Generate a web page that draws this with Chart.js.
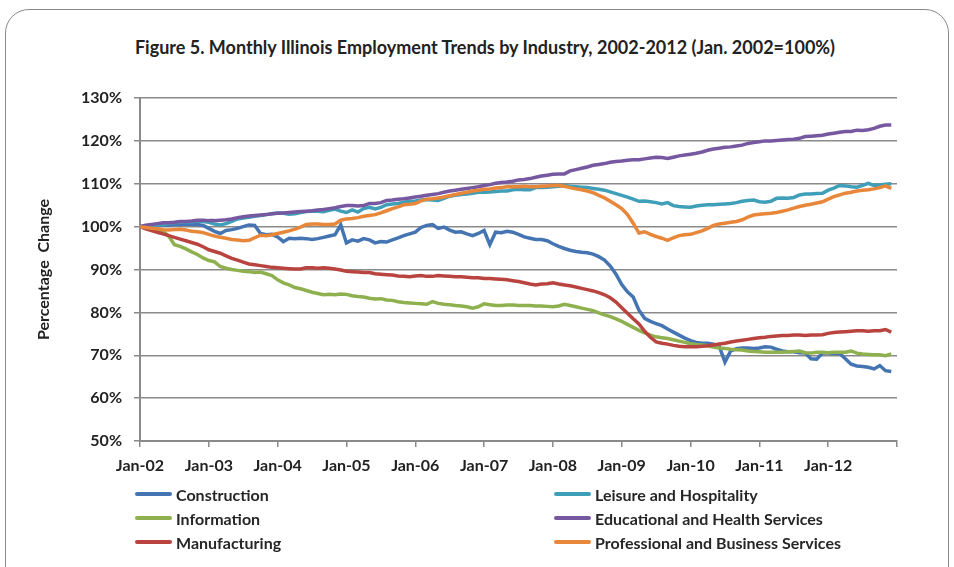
<!DOCTYPE html>
<html>
<head>
<meta charset="utf-8">
<script src="https://cdn.jsdelivr.net/npm/chart.js@4.4.1/dist/chart.umd.min.js"></script>
<style>
  html, body { margin: 0; padding: 0; background: #fff; }
  body { width: 954px; height: 567px; position: relative; overflow: hidden; font-family: Lato, sans-serif; }
  #frame { position: absolute; left: 5px; top: 9px; width: 942px; height: 600px; border: 1.5px solid #8a8a8a; border-radius: 24px; }
  #title { position: absolute; left: 0; width: 970px; top: 36px; text-align: center; font: bold 18px Lato, sans-serif; color: #222; }
  canvas { position: absolute; left: 0; top: 0; }
  .leg { position: absolute; height: 20px; display: flex; align-items: center; font: bold 16px Lato, sans-serif; color: #262626; white-space: nowrap; }
  .leg .sw { width: 37px; height: 4px; border-radius: 2px; margin-right: 4px; }
</style>
</head>
<body>
<div id="frame"></div>
<div id="title">Figure 5. Monthly Illinois Employment Trends by Industry, 2002-2012 (Jan. 2002=100%)</div>
<canvas id="myChart" width="954" height="567"></canvas>
<div id="legend"></div>
<script>
// month index since Jan-02 (0 .. 131)
const months = Array.from({ length: 132 }, (x, i) => i);
const yearLabels = ['Jan-02', 'Jan-03', 'Jan-04', 'Jan-05', 'Jan-06', 'Jan-07', 'Jan-08', 'Jan-09', 'Jan-10', 'Jan-11', 'Jan-12'];

const construction = [
  100.0, 100.0, 100.1, 100.3, 100.4, 100.4, 100.5, 100.5, 100.6, 100.5, 100.5, 100.3,
  99.6, 98.9, 98.4, 99.1, 99.3, 99.6, 100.0, 100.4, 100.3, 98.4, 98.1, 98.2,
  97.6, 96.5, 97.3, 97.2, 97.3, 97.2, 97.0, 97.2, 97.5, 97.8, 98.1, 100.4,
  96.2, 96.9, 96.6, 97.2, 96.9, 96.2, 96.5, 96.4, 96.9, 97.4, 97.9, 98.3,
  98.7, 99.8, 100.3, 100.5, 99.6, 99.9, 99.2, 98.7, 98.8, 98.3, 97.9, 98.4,
  99.1, 95.8, 98.7, 98.6, 98.9, 98.7, 98.2, 97.6, 97.3, 97.0, 97.0, 96.7,
  96.0, 95.4, 94.9, 94.5, 94.2, 94.0, 93.9, 93.6, 93.0, 92.2, 90.8, 88.9,
  86.5, 84.8, 83.6, 80.5, 78.6, 77.9, 77.4, 76.9, 76.1, 75.4, 74.7, 74.0,
  73.4, 73.0, 72.8, 72.8, 72.6, 72.1, 68.4, 71.0, 71.5, 71.7, 71.7, 71.6,
  71.7, 72.0, 71.9, 71.4, 71.0, 70.8, 70.8, 70.6, 70.5, 69.2, 69.1, 70.5,
  70.5, 70.4, 70.4, 69.2, 67.9, 67.5, 67.4, 67.2, 66.8, 67.6, 66.4, 66.2
];
const information = [
  100.0, 99.7, 99.4, 99.2, 98.9, 97.8, 95.8, 95.4, 94.8, 94.1, 93.5, 92.7,
  92.1, 91.8, 90.7, 90.3, 90.0, 89.8, 89.6, 89.5, 89.3, 89.4, 89.0, 88.6,
  87.6, 86.9, 86.4, 85.8, 85.5, 85.1, 84.7, 84.4, 84.1, 84.2, 84.1, 84.3,
  84.2, 83.9, 83.7, 83.6, 83.3, 83.1, 83.2, 82.9, 82.8, 82.5, 82.3, 82.2,
  82.1, 82.0, 81.9, 82.5, 82.1, 81.9, 81.8, 81.6, 81.5, 81.3, 81.0, 81.3,
  82.0, 81.8, 81.6, 81.6, 81.7, 81.7, 81.6, 81.6, 81.6, 81.5, 81.5, 81.4,
  81.3, 81.5, 81.9, 81.6, 81.3, 81.0, 80.7, 80.4, 79.9, 79.4, 79.0, 78.5,
  77.9, 77.2, 76.5, 75.8, 75.2, 74.7, 74.3, 74.1, 73.9, 73.6, 73.3, 73.0,
  72.7, 72.5, 72.4, 72.2, 71.9, 71.7, 71.6, 71.4, 71.3, 71.2, 71.0, 70.9,
  70.8, 70.7, 70.7, 70.7, 70.7, 70.8, 70.9, 71.0, 70.6, 70.5, 70.7, 70.7,
  70.6, 70.7, 70.7, 70.7, 71.0, 70.5, 70.3, 70.2, 70.1, 70.1, 69.9, 70.3
];
const manufacturing = [
  100.0, 99.5, 99.1, 98.7, 98.3, 97.9, 97.5, 97.1, 96.7, 96.3, 95.9, 95.3,
  94.6, 94.2, 93.8, 93.2, 92.6, 92.2, 91.7, 91.3, 91.1, 90.9, 90.7, 90.5,
  90.4, 90.3, 90.2, 90.1, 90.1, 90.4, 90.4, 90.3, 90.4, 90.3, 90.1, 89.9,
  89.6, 89.5, 89.4, 89.3, 89.3, 89.0, 88.9, 88.8, 88.7, 88.5, 88.4, 88.3,
  88.5, 88.6, 88.4, 88.4, 88.6, 88.5, 88.4, 88.3, 88.3, 88.2, 88.1, 88.1,
  87.9, 87.9, 87.8, 87.7, 87.6, 87.4, 87.2, 86.9, 86.6, 86.4, 86.6, 86.7,
  86.9, 86.6, 86.4, 86.2, 85.9, 85.6, 85.3, 85.0, 84.6, 84.1, 83.4, 82.4,
  81.1, 79.8, 78.5, 77.3, 75.6, 74.2, 73.1, 72.8, 72.6, 72.3, 72.1, 72.0,
  72.0, 72.0, 72.1, 72.2, 72.4, 72.6, 72.8, 73.1, 73.3, 73.5, 73.7, 73.9,
  74.1, 74.2, 74.4, 74.5, 74.6, 74.6, 74.7, 74.7, 74.6, 74.7, 74.7, 74.8,
  75.1, 75.3, 75.4, 75.5, 75.6, 75.7, 75.7, 75.6, 75.7, 75.7, 76.0, 75.4
];
const leisure = [
  100.0, 100.1, 100.2, 100.4, 100.5, 100.7, 100.9, 101.0, 101.1, 101.1, 101.3, 101.2,
  101.0, 100.6, 100.4, 100.7, 101.2, 101.8, 102.0, 102.2, 102.4, 102.6, 102.8, 103.0,
  103.2, 103.1, 102.9, 103.0, 103.3, 103.5, 103.6, 103.6, 103.5, 103.8, 104.1, 103.6,
  103.3, 103.9, 103.4, 104.2, 104.5, 104.1, 104.5, 105.1, 105.3, 105.4, 105.7, 105.9,
  106.0, 106.2, 106.3, 106.2, 106.1, 106.6, 107.1, 107.3, 107.5, 107.6, 107.8, 108.0,
  108.0, 108.1, 108.2, 108.3, 108.3, 108.6, 108.7, 108.6, 108.6, 109.1, 109.1, 109.2,
  109.3, 109.4, 109.6, 109.4, 109.3, 109.2, 109.1, 108.9, 108.7, 108.5, 108.1, 107.7,
  107.3, 106.9, 106.4, 105.9, 106.0, 105.8, 105.6, 105.3, 105.6, 104.9, 104.7, 104.6,
  104.5, 104.8, 105.0, 105.1, 105.1, 105.2, 105.3, 105.4, 105.6, 105.9, 106.1, 106.2,
  105.8, 105.7, 105.9, 106.6, 106.7, 106.6, 106.8, 107.4, 107.6, 107.6, 107.7, 107.8,
  108.5, 109.0, 109.6, 109.5, 109.3, 109.2, 109.6, 110.1, 109.6, 109.7, 109.9, 110.0
];
const education = [
  100.0, 100.3, 100.5, 100.7, 100.9, 100.9, 101.0, 101.2, 101.2, 101.3, 101.5, 101.5,
  101.4, 101.4, 101.5, 101.6, 101.8, 102.1, 102.3, 102.5, 102.6, 102.7, 102.8, 103.0,
  103.1, 103.2, 103.3, 103.4, 103.5, 103.6, 103.7, 103.9, 104.0, 104.2, 104.4, 104.7,
  104.9, 104.9, 104.8, 104.9, 105.4, 105.4, 105.6, 106.1, 106.2, 106.4, 106.5, 106.7,
  106.9, 107.1, 107.3, 107.5, 107.7, 108.0, 108.3, 108.5, 108.7, 108.9, 109.1, 109.3,
  109.6, 109.8, 110.1, 110.3, 110.4, 110.6, 110.9, 111.0, 111.2, 111.5, 111.8, 112.0,
  112.2, 112.3, 112.3, 113.0, 113.3, 113.6, 113.9, 114.3, 114.5, 114.7, 115.0, 115.2,
  115.3, 115.5, 115.6, 115.6, 115.8, 116.0, 116.2, 116.1, 115.9, 116.2, 116.5, 116.7,
  116.9, 117.1, 117.4, 117.8, 118.1, 118.3, 118.5, 118.6, 118.8, 119.0, 119.4, 119.6,
  119.8, 120.0, 120.0, 120.1, 120.2, 120.3, 120.4, 120.6, 121.0, 121.1, 121.2, 121.3,
  121.6, 121.8, 122.0, 122.2, 122.2, 122.5, 122.4, 122.6, 122.9, 123.4, 123.7, 123.7
];
const professional = [
  100.0, 99.8, 99.6, 99.5, 99.3, 99.2, 99.3, 99.4, 99.2, 98.9, 98.8, 98.6,
  98.2, 97.8, 97.5, 97.3, 97.0, 96.9, 96.7, 96.8, 97.4, 98.0, 97.9, 98.1,
  98.4, 98.7, 99.0, 99.4, 99.9, 100.5, 100.6, 100.6, 100.5, 100.5, 100.6, 101.5,
  101.8, 101.9, 102.1, 102.4, 102.6, 102.8, 103.2, 103.7, 104.2, 104.6, 105.1, 105.2,
  105.4, 106.0, 106.4, 106.5, 106.7, 106.9, 107.2, 107.5, 107.8, 108.0, 108.3, 108.5,
  108.7, 108.8, 109.0, 109.1, 109.3, 109.3, 109.3, 109.4, 109.3, 109.3, 109.4, 109.5,
  109.6, 109.6, 109.4, 109.1, 108.8, 108.6, 108.3, 107.9, 107.3, 106.7, 105.9, 105.1,
  104.2, 102.8, 100.8, 98.5, 98.8, 98.2, 97.7, 97.3, 96.8, 97.4, 97.9, 98.1,
  98.2, 98.6, 99.0, 99.6, 100.3, 100.6, 100.8, 101.0, 101.2, 101.6, 102.2, 102.7,
  102.9, 103.0, 103.1, 103.3, 103.6, 103.9, 104.3, 104.7, 105.0, 105.2, 105.5, 105.8,
  106.4, 107.0, 107.4, 107.8, 108.0, 108.3, 108.5, 108.6, 108.8, 109.1, 109.5, 108.9
];

const names = ['Construction', 'Information', 'Manufacturing', 'Leisure and Hospitality', 'Educational and Health Services', 'Professional and Business Services'];
const values = [construction, information, manufacturing, leisure, education, professional];
const colors = ['#4474b2', '#8eb04e', '#b9443f', '#3f9fb9', '#7658a0', '#e8863a'];

const axisGray = '#8a8a8a';
const labelFont = { family: 'Lato', size: 16, weight: 'bold' };

const ctx = document.getElementById('myChart');
const myChart = new Chart(ctx, {
  type: 'line',
  data: {
    labels: months,
    datasets: values.map((v, i) => ({
      label: names[i],
      data: v,
      borderColor: colors[i],
      backgroundColor: colors[i],
      borderWidth: 3.5,
      pointRadius: 0,
      tension: 0,
      fill: false,
      order: values.length - i   // later series drawn on top, like Excel
    }))
  },
  options: {
    responsive: false,
    animation: false,
    devicePixelRatio: 1,
    layout: { padding: { left: 26, right: 57, top: 98, bottom: 76 } },
    plugins: { legend: { display: false }, title: { display: false }, tooltip: { enabled: false } },
    scales: {
      x: {
        type: 'linear',
        min: 0,
        max: 132,
        afterFit(scale) { scale.height = 50; },
        ticks: {
          stepSize: 12,
          autoSkip: false,
          maxRotation: 0,
          padding: 9,
          color: '#222',
          font: labelFont,
          callback: (v) => yearLabels[v / 12] || ''
        },
        grid: { drawOnChartArea: false, drawTicks: true, tickLength: 6, color: axisGray, lineWidth: 1.5 },
        border: { color: axisGray, width: 2 }
      },
      y: {
        min: 50,
        max: 130,
        afterFit(scale) { scale.width = 140 - 26; },
        ticks: {
          stepSize: 10,
          padding: 12,
          color: '#222',
          font: labelFont,
          callback: (v) => v + '%'
        },
        grid: { color: axisGray, lineWidth: 1.5, tickLength: 6 },
        border: { color: axisGray, width: 2 },
        title: {
          display: true,
          text: 'Percentage  Change',
          color: '#222',
          font: { family: 'Lato', size: 16, weight: 'bold' },
          padding: { top: 8, bottom: 0 }
        }
      }
    }
  }
});

// legend: two columns of three, same as the original layout
const legend = document.getElementById('legend');
const legX = [135, 554];
const legY = [494, 518, 542];
names.forEach((n, i) => {
  const d = document.createElement('div');
  d.className = 'leg';
  d.style.left = legX[Math.floor(i / 3)] + 'px';
  d.style.top = (legY[i % 3] - 10) + 'px';
  d.innerHTML = '<span class="sw" style="background:' + colors[i] + '"></span>' + n;
  legend.appendChild(d);
});
</script>
</body>
</html>
